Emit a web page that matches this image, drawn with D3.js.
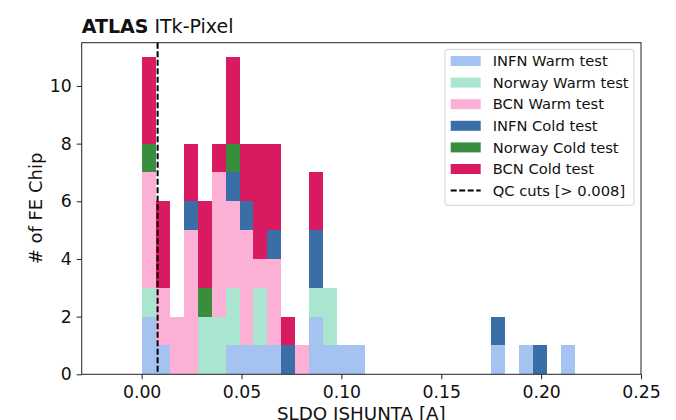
<!DOCTYPE html>
<html>
<head>
<meta charset="utf-8">
<script src="https://cdn.jsdelivr.net/npm/d3@7"></script>
<style>
  body { margin: 0; background: #fff; }
  text { font-family: "DejaVu Sans", sans-serif; fill: #111; }
</style>
</head>
<body>
<script>
// histogram bins: width 0.007 starting at 0
const binWidth = 0.007;
const nBins = 32;

const seriesNames = ['INFN Warm test', 'Norway Warm test', 'BCN Warm test',
                     'INFN Cold test', 'Norway Cold test', 'BCN Cold test'];
const seriesColors = ['#a4c3f0', '#a9e5cf', '#fdb0d6', '#3a6ea6', '#388e3c', '#d81b60'];

// counts per bin (index = bin number)
const infnWarm   = [2,1,0,0,0,0,1,1,1,1,0,0,2,1,1,1,0,0,0,0,0,0,0,0,0,1,0,1,0,0,1,0];
const norwayWarm = [1,0,0,0,2,2,2,0,2,0,0,0,1,2,0,0,0,0,0,0,0,0,0,0,0,0,0,0,0,0,0,0];
const bcnWarm    = [4,2,2,5,0,5,3,4,1,3,0,1,0,0,0,0,0,0,0,0,0,0,0,0,0,0,0,0,0,0,0,0];
const infnCold   = [0,0,0,1,0,0,1,1,0,1,1,0,2,0,0,0,0,0,0,0,0,0,0,0,0,1,0,0,1,0,0,0];
const norwayCold = [1,0,0,0,1,0,1,0,0,0,0,0,0,0,0,0,0,0,0,0,0,0,0,0,0,0,0,0,0,0,0,0];
const bcnCold    = [3,3,0,2,3,1,3,2,4,3,1,0,2,0,0,0,0,0,0,0,0,0,0,0,0,0,0,0,0,0,0,0];

const qcCut = 0.008;
const xTicks = [0.00, 0.05, 0.10, 0.15, 0.20, 0.25];
const yTicks = [0, 2, 4, 6, 8, 10];

const allSeries = [infnWarm, norwayWarm, bcnWarm, infnCold, norwayCold, bcnCold];
const table = d3.range(nBins).map(i => {
  let row = { x0: i * binWidth };
  seriesNames.forEach((s, j) => row[s] = allSeries[j][i]);
  return row;
});

const W = 676, H = 420;
const m = { left: 81.7, right: 641, top: 42.7, bottom: 374.3 };

const svg = d3.select('body').append('svg').attr('width', W).attr('height', H);

const x = d3.scaleLinear().domain([-0.03, 0.25]).range([m.left, m.right]);
const y = d3.scaleLinear().domain([0, 11.5]).range([m.bottom, m.top]);

const stacked = d3.stack().keys(seriesNames)(table);

svg.append('g')
  .attr('shape-rendering', 'crispEdges')
  .selectAll('g')
  .data(stacked)
  .enter()
  .append('g')
  .attr('fill', (d, i) => seriesColors[i])
  .selectAll('rect')
  .data(d => d.filter(p => p[1] > p[0]))
  .enter()
  .append('rect')
  .attr('x', d => x(d.data.x0))
  .attr('width', d => x(d.data.x0 + binWidth) - x(d.data.x0))
  .attr('y', d => y(d[1]))
  .attr('height', d => y(d[0]) - y(d[1]));

// QC cut line
svg.append('line')
  .attr('x1', x(qcCut)).attr('x2', x(qcCut))
  .attr('y1', m.top).attr('y2', m.bottom)
  .attr('stroke', 'black').attr('stroke-width', 2)
  .attr('stroke-dasharray', '6,2.5');

// frame
svg.append('rect')
  .attr('x', m.left).attr('y', m.top)
  .attr('width', m.right - m.left).attr('height', m.bottom - m.top)
  .attr('fill', 'none').attr('stroke', '#222').attr('stroke-width', 1);

// axes
const xAxis = svg.append('g')
  .attr('transform', `translate(0,${m.bottom})`)
  .call(d3.axisBottom(x).tickValues(xTicks).tickFormat(d3.format('.2f')).tickSize(5).tickPadding(6));
const yAxis = svg.append('g')
  .attr('transform', `translate(${m.left},0)`)
  .call(d3.axisLeft(y).tickValues(yTicks).tickFormat(d3.format('d')).tickSize(5).tickPadding(5));

[xAxis, yAxis].forEach(a => {
  a.select('.domain').remove();
  a.selectAll('line').attr('stroke', '#222');
  a.selectAll('text').attr('font-size', 17.3).attr('font-family', 'DejaVu Sans').attr('fill', '#111');
});

svg.append('text')
  .attr('x', (m.left + m.right) / 2).attr('y', 419.5)
  .attr('text-anchor', 'middle').attr('font-size', 18.3)
  .text('SLDO ISHUNTA [A]');

svg.append('text')
  .attr('transform', `translate(42,${(m.top + m.bottom) / 2}) rotate(-90)`)
  .attr('text-anchor', 'middle').attr('font-size', 18)
  .text('# of FE Chip');

// ATLAS label
const title = svg.append('text').attr('x', m.left).attr('y', 33).attr('font-size', 19);
title.append('tspan').attr('font-weight', 'bold').text('ATLAS');
title.append('tspan').text(' ITk-Pixel');

// legend
const leg = svg.append('g');
leg.append('rect')
  .attr('x', 445).attr('y', 49.3).attr('width', 189).attr('height', 156)
  .attr('rx', 3).attr('fill', 'white').attr('fill-opacity', 0.8)
  .attr('stroke', '#d0d0d0');

const rowY = i => 61 + i * 21.6;
seriesNames.forEach((s, i) => {
  leg.append('rect')
    .attr('x', 450.7).attr('y', rowY(i) - 5).attr('width', 30).attr('height', 10)
    .attr('fill', seriesColors[i]);
  leg.append('text')
    .attr('x', 492.7).attr('y', rowY(i)).attr('dy', '0.35em')
    .attr('font-size', 14.7).text(s);
});
leg.append('line')
  .attr('x1', 450.7).attr('x2', 480.7).attr('y1', rowY(6)).attr('y2', rowY(6))
  .attr('stroke', 'black').attr('stroke-width', 2).attr('stroke-dasharray', '6,2.5');
leg.append('text')
  .attr('x', 492.7).attr('y', rowY(6)).attr('dy', '0.35em')
  .attr('font-size', 14.7).text('QC cuts [> 0.008]');
</script>
</body>
</html>
